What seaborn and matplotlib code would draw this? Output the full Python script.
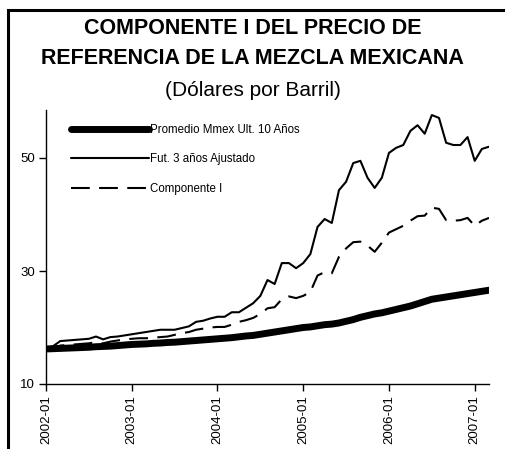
import matplotlib
matplotlib.use("Agg")
import matplotlib.pyplot as plt
from matplotlib.patches import Rectangle
import seaborn as sns
import pandas as pd

sns.set_style("ticks")
plt.rcParams["font.family"] = ["Liberation Sans", "DejaVu Sans"]
plt.rcParams["text.color"] = "black"
plt.rcParams["xtick.color"] = "black"
plt.rcParams["ytick.color"] = "black"
plt.rcParams["axes.labelcolor"] = "black"

# Monthly observations, January 2002 through March 2007
months = list(pd.period_range("2002-01", "2007-03", freq="M").strftime("%Y-%m"))

promedio_mmex = [
    16.2, 16.25, 16.3, 16.35, 16.4, 16.45, 16.5, 16.6, 16.65, 16.7, 16.8, 16.9,
    17.0, 17.05, 17.1, 17.2, 17.25, 17.35, 17.4, 17.5, 17.6, 17.7, 17.8, 17.9,
    18.0, 18.1, 18.2, 18.35, 18.5, 18.6, 18.8, 19.0, 19.2, 19.4, 19.6, 19.8,
    20.0, 20.1, 20.3, 20.5, 20.6, 20.8, 21.1, 21.4, 21.8, 22.1, 22.4, 22.6,
    22.9, 23.2, 23.5, 23.8, 24.2, 24.6, 25.0, 25.2, 25.4, 25.6, 25.8, 26.0,
    26.2, 26.4, 26.6,
]

fut_3_anios = [
    16.3, 16.7, 17.6, 17.7, 17.8, 17.9, 18.0, 18.4, 17.9, 18.3, 18.4, 18.6,
    18.8, 19.0, 19.2, 19.4, 19.6, 19.6, 19.6, 19.9, 20.2, 21.0, 21.2, 21.6,
    21.9, 21.9, 22.7, 22.7, 23.5, 24.3, 25.6, 28.4, 27.7, 31.4, 31.4, 30.5,
    31.4, 33.0, 37.8, 39.2, 38.5, 44.3, 45.8, 49.1, 49.5, 46.5, 44.7, 46.5,
    50.9, 51.8, 52.3, 54.8, 55.8, 54.3, 57.6, 57.1, 52.7, 52.3, 52.3, 53.7,
    49.5, 51.6, 52.0,
]

componente_i = [
    16.2, 16.4, 16.8, 16.9, 17.0, 17.1, 17.2, 17.4, 17.2, 17.5, 17.7, 17.9,
    18.0, 18.1, 18.1, 18.2, 18.3, 18.4, 18.7, 19.0, 19.2, 19.6, 19.8, 20.0,
    20.1, 20.1, 20.5, 21.0, 21.3, 21.7, 22.4, 23.4, 23.6, 25.0, 25.5, 25.2,
    25.6, 26.3, 29.2, 29.8, 29.6, 32.5, 34.0, 35.1, 35.2, 34.5, 33.4, 35.0,
    36.8, 37.4, 38.0, 38.9, 39.7, 39.8, 41.2, 41.0, 39.0, 38.9, 39.0, 39.4,
    38.0, 38.9, 39.4,
]

series_labels = ["Promedio Mmex Ult. 10 Años", "Fut. 3 años Ajustado", "Componente I"]
y_ticks = [10, 30, 50]

df = pd.DataFrame({
    "idx": range(len(months)),
    "mes": months,
    series_labels[0]: promedio_mmex,
    series_labels[1]: fut_3_anios,
    series_labels[2]: componente_i,
})

y_min, y_max = 10, 58.5
fig = plt.figure(figsize=(5.05, 4.49), dpi=100)
fig.patch.set_facecolor("white")
top_px = 384 - (y_max - y_min) * 5.65
ax = fig.add_axes([46 / 505, 1 - 384 / 449, (489 - 46) / 505, (384 - top_px) / 449])

styles = [
    dict(lw=5.0, ls="-", solid_capstyle="round"),
    dict(lw=1.5, ls="-"),
    dict(lw=1.5, ls=(0, (9, 4.5))),
]
for label, st in zip(series_labels, styles):
    sns.lineplot(data=df, x="idx", y=label, ax=ax, color="black", label=label, **st)

ax.set_xlim(0, len(months) - 1)
ax.set_ylim(y_min, y_max)
ax.set_yticks(y_ticks)
ax.set_yticklabels([str(v) for v in y_ticks], fontsize=9.5)
year_pos = list(range(0, len(months), 12))
ax.set_xticks(year_pos)
ax.set_xticklabels([months[i] for i in year_pos], rotation=90, fontsize=9.5)
ax.set_xlabel("")
ax.set_ylabel("")
ax.tick_params(axis="both", direction="out", length=5, width=1, color="black", pad=3)
for s in ("top", "right"):
    ax.spines[s].set_visible(False)
for s in ("left", "bottom"):
    ax.spines[s].set_color("black")
    ax.spines[s].set_linewidth(1)

leg = ax.legend(loc="upper left", bbox_to_anchor=(0.045, 0.965), frameon=False,
                fontsize=8.3, handlelength=6.8, handletextpad=0.05, labelspacing=1.5,
                borderaxespad=0)

fig.text(0.5, 1 - 28 / 449, "COMPONENTE I DEL PRECIO DE", ha="center", va="center",
         fontsize=15.5, fontweight="bold")
fig.text(0.5, 1 - 59 / 449, "REFERENCIA DE LA MEZCLA MEXICANA", ha="center", va="center",
         fontsize=15.5, fontweight="bold")
fig.text(0.5, 1 - 91 / 449, "(Dólares por Barril)", ha="center", va="center", fontsize=15)

fig.patches.append(Rectangle((8 / 505, -0.2), 1.5, 1.2 - 10 / 449,
                             transform=fig.transFigure, fill=False,
                             edgecolor="black", linewidth=2.2))

fig.savefig("out.png", dpi=100, facecolor="white")
